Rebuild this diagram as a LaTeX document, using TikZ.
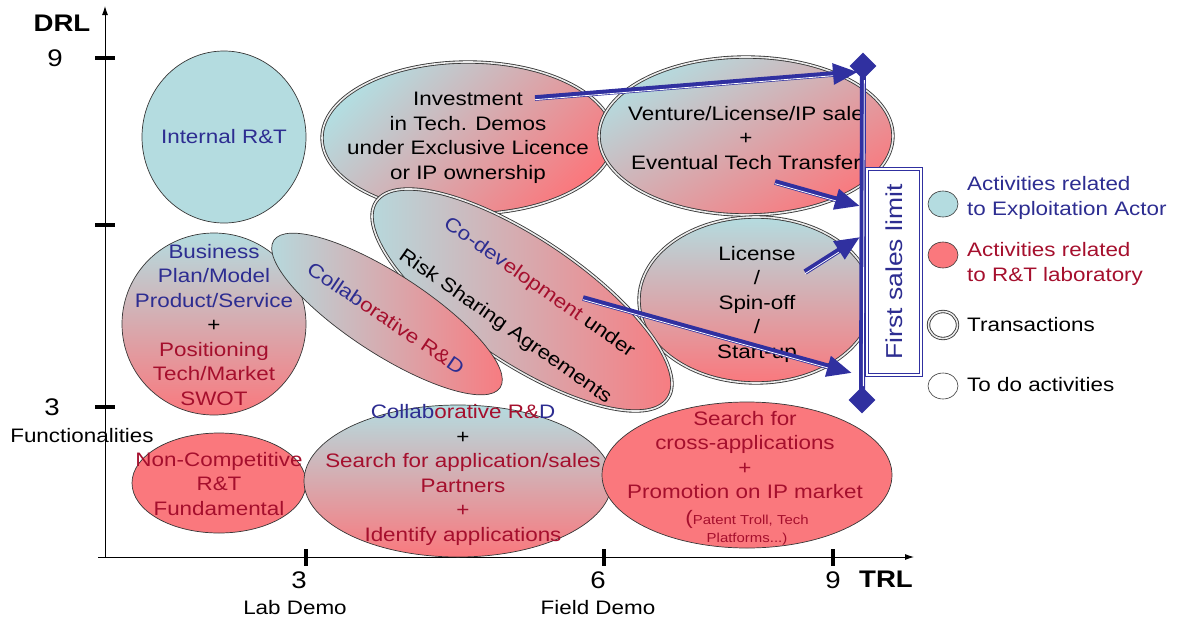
\documentclass[tikz,border=0pt]{standalone}
\usepackage{fontspec}
\setmainfont{Liberation Sans}[FakeStretch=1.15]
\usetikzlibrary{shapes.geometric,arrows.meta}
\definecolor{cy}{RGB}{180,220,224}
\definecolor{rd}{RGB}{250,120,125}
\definecolor{tb}{RGB}{45,45,145}
\definecolor{tr}{RGB}{165,15,45}
\definecolor{ab}{RGB}{48,48,160}
\definecolor{bord}{RGB}{55,55,55}
\newcommand{\fsn}{\fontsize{19.5}{24.5}\selectfont}
\newcommand{\fsbig}{\fontsize{24}{26}\selectfont}
\newcommand{\fssmall}{\fontsize{13}{18}\selectfont}
\tikzset{
  act/.style={ellipse, inner sep=0pt, draw=bord, line width=0.7pt},
  transa/.style={ellipse, inner sep=0pt, draw=bord, line width=0.85pt, double=white!92!black, double distance=1.6pt},
  txt/.style={align=center, font=\fsn, inner sep=0pt},
  lbl/.style={font=\fsn, inner sep=0pt, anchor=base},
  num/.style={font=\fsbig, inner sep=0pt, anchor=base},
  arr/.style={draw=ab, line width=5.6pt, -{Triangle[length=25pt,width=20pt]}},
  stripe/.style={draw=white, line width=0.8pt, shorten >=25pt, shorten <=0pt},
  tickm/.style={line width=3.5pt, line cap=butt},
}
\begin{document}
\begin{tikzpicture}[x=1pt,y=-1pt]
\useasboundingbox (0,0) rectangle (1183,619);
% axes
\coordinate (o) at (105,557);
\coordinate (ytop) at (105,6);
\coordinate (xs) at (98,557);
\coordinate (xend) at (914,557);
\draw[line width=0.9pt, -{Latex[length=9pt,width=6pt]}] (o) -- (ytop);
\draw[line width=0.9pt, -{Latex[length=9pt,width=6pt]}] (xs) -- (xend);
\draw[tickm] (95,58) -- (115,58);
\draw[tickm] (95,225) -- (115,225);
\draw[tickm] (95,407) -- (115,407);
\draw[tickm] (306,549) -- (306,566);
\draw[tickm] (604,549) -- (604,566);
\draw[tickm] (833,549) -- (833,566);
\node[num, font=\fsbig\bfseries] (drl) at (62,31) {DRL};
\node[num] (y9) at (55,66) {9};
\node[num] (y3) at (52,415) {3};
\node[lbl] (fun) at (82,442) {Functionalities};
\node[num] (x3) at (299,588) {3};
\node[num] (x6) at (598,588) {6};
\node[num] (x9) at (833,588) {9};
\node[num, font=\fsbig\bfseries] (trl) at (886,587) {TRL};
\node[lbl] (lab) at (295,614) {Lab Demo};
\node[lbl] (field) at (598,614) {Field Demo};

% ellipses
\node[act, fill=cy, minimum width=164pt, minimum height=172pt] (irt) at (224,137) {};
\node[act, top color=cy, bottom color=rd, minimum width=184pt, minimum height=182pt] (bp) at (214,324) {};
\node[act, fill=rd, minimum width=174pt, minimum height=100pt] (nc) at (219,483) {};
\node[transa, top color=cy, bottom color=rd, shading angle=45, minimum width=292pt, minimum height=152pt] (inv) at (468,138) {};
\node[transa, top color=cy, bottom color=rd, shading angle=30, minimum width=294pt, minimum height=158pt] (ven) at (746,136) {};
\node[transa, top color=cy, bottom color=rd, minimum width=234pt, minimum height=166pt] (lic) at (756,300) {};
\node[transa, left color=cy, right color=rd, rotate=-34, minimum width=352pt, minimum height=124pt] (cod) at (522,300) {};
\node[act, left color=cy, right color=rd, rotate=-33, minimum width=270pt, minimum height=80pt] (col) at (387,314) {};
\node[act, top color=cy, bottom color=rd, minimum width=308pt, minimum height=152pt] (cbt) at (458,481) {};
\node[act, fill=rd, minimum width=290pt, minimum height=146pt] (scr) at (747,475) {};

% texts
\node[txt, text=tb] (tirt) at (irt) {Internal R\&T};
\node[txt] (tinv) at (468,138) {Investment\\in Tech. Demos\\under Exclusive Licence\\or IP ownership};
\node[txt] (tven) at (746,138) {Venture/License/IP sale\\+\\Eventual Tech Transfer};
\node[txt] (tbp) at (214,325) {\color{tb}Business\\\color{tb}Plan/Model\\\color{tb}Product/Service\\+\\\color{tr}Positioning\\\color{tr}Tech/Market\\\color{tr}SWOT};
\node[txt] (tlic) at (757,304) {License\\/\\Spin-off\\/\\Start-up};
\node[txt, text=tr] (tnc) at (219,484) {Non-Competitive\\R\&T\\Fundamental};
\node[txt] (tcbt) at (463,475) {{\color{tb}Collab}{\color{tr}orative R\&}{\color{tb}D}\\+\\\color{tr}Search for application/sales\\\color{tr}Partners\\\color{tr}+\\\color{tr}Identify applications};
\node[txt, text=tr] (tscr) at (745,455) {Search for\\cross-applications\\+\\Promotion on IP market};
\node[txt, text=tr, font=\fssmall] (tscr2) at (747,528) {{\fsn(}Patent Troll, Tech\\Platforms...)};
\node[txt, rotate=-35] (tcod1) at (539,288) {{\color{tb}Co-dev}{\color{tr}elopment} under};
\node[txt, rotate=-35] (tcod2) at (505,327) {Risk Sharing Agreements};
\node[txt, rotate=-34] (tcol) at (386,318) {{\color{tb}Collab}{\color{tr}orative R\&}{\color{tb}D}};

% first sales limit
\node[diamond, fill=ab, minimum width=27pt, minimum height=27pt, inner sep=0pt] (dt) at (863,66) {};
\node[diamond, fill=ab, minimum width=27pt, minimum height=27pt, inner sep=0pt] (db) at (862,400) {};
\draw[ab, line width=6pt] (dt.center) -- (db.center);
\draw[white, line width=0.9pt] ([xshift=1.3pt,yshift=-14pt]dt.center) -- ([xshift=1.3pt,yshift=14pt]db.center);
\node[draw=ab, double=white, line width=1.3pt, double distance=1.3pt, fill=white, minimum width=54pt, minimum height=206pt, inner sep=0pt] (fsl) at (894,272) {};
\node[rotate=90, text=tb, font=\fontsize{23}{23}\selectfont, inner sep=0pt] (tfsl) at (fsl) {First sales limit};

% arrows
\coordinate (a1) at (535,98);  \coordinate (a2) at (858,72);
\coordinate (b1) at (775,182); \coordinate (b2) at (860,206);
\coordinate (c1) at (805,272); \coordinate (c2) at (860,237);
\coordinate (d1) at (583,298); \coordinate (d2) at (852,373);
\foreach \s/\e in {a1/a2,b1/b2,c1/c2,d1/d2}{
  \draw[arr] (\s) -- (\e);
  \draw[stripe, transform canvas={yshift=-1.7pt}] (\s) -- (\e);
}

% legend
\node[ellipse, draw=bord, line width=0.6pt, fill=cy, minimum width=30pt, minimum height=26pt, inner sep=0pt] (lg1) at (943,204) {};
\node[txt, anchor=west, align=left, text=tb] (lt1) at (967,198) {Activities related\\to Exploitation Actor};
\node[ellipse, draw=bord, line width=0.6pt, fill=rd, minimum width=30pt, minimum height=26pt, inner sep=0pt] (lg2) at (943,255) {};
\node[txt, anchor=west, align=left, text=tr] (lt2) at (967,264) {Activities related\\to R\&T laboratory};
\node[transa, minimum width=29pt, minimum height=27pt, fill=white] (lg3) at (943,325) {};
\node[txt, anchor=west] (lt3) at (967,325) {Transactions};
\node[ellipse, draw=bord, line width=0.6pt, fill=white, minimum width=30pt, minimum height=26pt, inner sep=0pt] (lg4) at (943,386) {};
\node[txt, anchor=west] (lt4) at (967,385) {To do activities};
\end{tikzpicture}
\end{document}
